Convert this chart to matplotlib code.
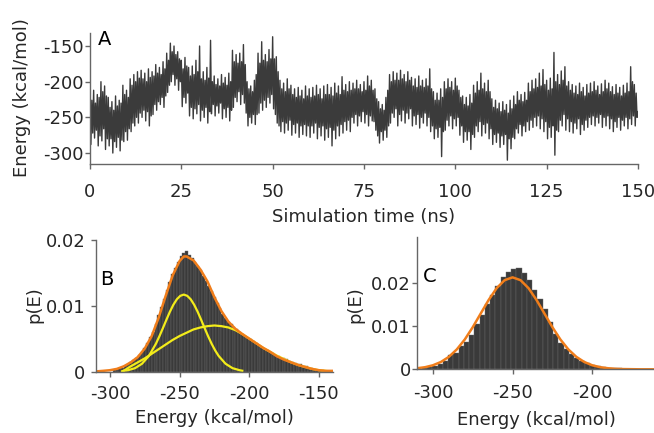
import matplotlib
matplotlib.use("Agg")
import matplotlib.pyplot as plt
import numpy as np

plt.rcParams['font.family'] = ['DejaVu Sans']
plt.rcParams['axes.unicode_minus'] = False

# --- panel A: energy trace, four samples per ns (t = 0, 0.25, 0.5, ...)
energy_trace = [
    -240, -288, -226, -272, -212, -279, -230, -268, -218, -290, -222, -276, -200, -283, -214, -266, -206, -295, -220, -280,
    -222, -290, -236, -280, -228, -300, -240, -284, -220, -292, -234, -278, -226, -297, -230, -282, -205, -284, -218, -270,
    -212, -282, -222, -266, -196, -270, -205, -258, -190, -262, -200, -250, -186, -258, -195, -244, -184, -250, -196, -240,
    -188, -255, -200, -242, -182, -262, -194, -248, -186, -246, -192, -232, -176, -240, -188, -228, -180, -232, -190, -222,
    -172, -236, -182, -220, -160, -215, -170, -205, -146, -200, -158, -190, -150, -205, -162, -196, -158, -212, -168, -200,
    -170, -235, -182, -222, -166, -230, -178, -216, -180, -248, -192, -236, -178, -252, -190, -238, -170, -245, -186, -232,
    -150, -255, -196, -240, -186, -250, -198, -236, -180, -258, -195, -242, -142, -245, -200, -232, -192, -248, -204, -234,
    -196, -244, -206, -230, -190, -252, -202, -238, -194, -250, -205, -236, -188, -255, -200, -240, -156, -236, -172, -222,
    -162, -228, -174, -214, -160, -232, -172, -218, -148, -230, -176, -244, -200, -262, -210, -250, -206, -258, -214, -246,
    -198, -260, -190, -246, -160, -244, -174, -230, -144, -240, -170, -226, -162, -236, -172, -222, -155, -230, -168, -218,
    -137, -238, -168, -246, -165, -258, -186, -262, -198, -270, -210, -256, -202, -272, -214, -258, -196, -268, -210, -254,
    -205, -275, -218, -260, -210, -272, -222, -258, -208, -278, -220, -262, -212, -274, -224, -260, -206, -276, -220, -262,
    -210, -278, -222, -262, -208, -272, -220, -258, -205, -280, -218, -264, -210, -276, -224, -262, -206, -282, -218, -266,
    -204, -278, -218, -264, -208, -290, -220, -268, -202, -280, -216, -262, -206, -276, -218, -260, -193, -272, -212, -256,
    -204, -268, -214, -254, -200, -270, -212, -250, -202, -258, -210, -246, -198, -262, -210, -248, -204, -256, -214, -242,
    -200, -258, -212, -246, -192, -262, -206, -248, -198, -255, -212, -256, -210, -268, -224, -276, -228, -286, -238, -270,
    -232, -282, -240, -268, -222, -278, -212, -262, -190, -258, -200, -244, -186, -250, -198, -238, -188, -262, -198, -246,
    -184, -255, -196, -240, -190, -258, -200, -244, -186, -252, -198, -238, -194, -262, -206, -248, -196, -260, -208, -246,
    -192, -265, -206, -250, -198, -258, -208, -244, -196, -262, -206, -250, -182, -270, -210, -262, -214, -280, -226, -266,
    -216, -278, -226, -264, -210, -305, -222, -270, -200, -268, -210, -254, -196, -262, -208, -248, -200, -266, -212, -252,
    -195, -262, -206, -250, -212, -275, -222, -262, -220, -285, -232, -270, -222, -282, -234, -270, -218, -295, -230, -274,
    -205, -278, -216, -262, -200, -270, -212, -256, -188, -276, -210, -260, -202, -272, -214, -258, -198, -280, -214, -266,
    -224, -288, -236, -274, -226, -285, -238, -272, -230, -292, -242, -276, -228, -288, -240, -274, -232, -310, -244, -280,
    -226, -294, -238, -278, -220, -280, -232, -266, -214, -272, -226, -260, -218, -276, -228, -262, -215, -270, -226, -256,
    -202, -268, -214, -254, -198, -264, -210, -250, -196, -262, -208, -248, -188, -266, -206, -252, -183, -270, -204, -256,
    -198, -280, -212, -264, -195, -278, -210, -262, -159, -303, -200, -268, -190, -270, -204, -254, -185, -262, -198, -246,
    -179, -268, -206, -252, -200, -270, -212, -256, -204, -272, -216, -258, -206, -266, -218, -252, -202, -274, -214, -260,
    -208, -268, -220, -254, -204, -264, -216, -250, -202, -260, -214, -248, -200, -262, -212, -250, -206, -258, -218, -246,
    -203, -264, -214, -250, -198, -262, -210, -248, -202, -266, -214, -252, -207, -270, -218, -256, -204, -264, -216, -250,
    -208, -268, -220, -254, -205, -262, -216, -250, -202, -266, -214, -252, -179, -260, -200, -248, -204, -262, -216, -250,
    -242,
]
time_ns = np.arange(len(energy_trace)) * 0.25

# --- panel B: histogram (bin width 2, first edge -298) and fits
hist_b = [
    0.0003, 0.0004, 0.0005, 0.0006, 0.0009, 0.0011, 0.0014, 0.0017, 0.0020, 0.0025,
    0.0030, 0.0036, 0.0043, 0.0052, 0.0060, 0.0072, 0.0086, 0.0098, 0.0110, 0.0124,
    0.0136, 0.0148, 0.0158, 0.0166, 0.0175, 0.0180, 0.0183, 0.0177, 0.0172, 0.0166,
    0.0160, 0.0154, 0.0146, 0.0138, 0.0130, 0.0122, 0.0113, 0.0104, 0.0096, 0.0088,
    0.0082, 0.0076, 0.0072, 0.0067, 0.0064, 0.0060, 0.0057, 0.0054, 0.0051, 0.0049,
    0.0046, 0.0043, 0.0040, 0.0038, 0.0035, 0.0032, 0.0030, 0.0028, 0.0025, 0.0023,
    0.0021, 0.0020, 0.0019, 0.0016, 0.0014, 0.0013, 0.0012, 0.0011, 0.0009, 0.0008,
    0.0006, 0.0005, 0.0004, 0.0003, 0.0002, 0.0002, 0.0001,
]
bins_b_start, bins_b_width = -298, 2

fit_b_e = [-311, -305, -300, -295, -290, -285, -280, -275, -270, -265, -260, -255, -250, -247,
           -245, -240, -235, -230, -225, -220, -215, -210, -205, -200, -195, -190, -185, -180,
           -175, -170, -165, -160, -155, -150, -145, -140]
fit_b_p = [0.0000, 0.0001, 0.0002, 0.0004, 0.0008, 0.0014, 0.0022, 0.0035, 0.0054, 0.0082,
           0.0115, 0.0146, 0.0168, 0.0175, 0.0175, 0.0169, 0.0155, 0.0137, 0.0113, 0.0092,
           0.0076, 0.0065, 0.0057, 0.0050, 0.0043, 0.0036, 0.0030, 0.0023, 0.0018, 0.0014,
           0.0010, 0.0007, 0.0004, 0.0002, 0.0001, 0.0001]

narrow_e = [-291, -287, -282, -277, -272, -267, -264.5, -262, -259.5, -257, -254.5, -252, -249.5,
            -247, -244.5, -242, -239.5, -237, -234.5, -232, -229.5, -227, -224.5, -222, -217,
            -212, -207, -205]
narrow_p = [0.00008, 0.0002, 0.00051, 0.00118, 0.00238, 0.00422, 0.00536, 0.00659, 0.00785,
            0.00907, 0.01014, 0.01098, 0.01151, 0.0117, 0.01151, 0.01098, 0.01014, 0.00907,
            0.00785, 0.00659, 0.00536, 0.00422, 0.00322, 0.00238, 0.00118, 0.00051, 0.0002,
            0.00012]

broad_e = [-291, -288, -285, -280, -275, -270, -265, -260, -255, -250, -245, -240, -235, -230,
           -225, -220, -215, -210, -205, -200, -195, -190, -185, -180, -175, -170, -165, -160,
           -155, -150, -145, -141]
broad_p = [0.0000, 0.0004, 0.0008, 0.0014, 0.0020, 0.0027, 0.0034, 0.0041, 0.0048, 0.0054,
           0.0059, 0.0064, 0.0067, 0.0069, 0.0070, 0.0069, 0.0067, 0.0063, 0.0057, 0.0050,
           0.0043, 0.0036, 0.0030, 0.0024, 0.0019, 0.0014, 0.0010, 0.0007, 0.0004, 0.0002,
           0.0001, 0.0000]

# --- panel C: histogram (bin width 3.3, first edge -307) and fit
hist_c = [
    0.0003, 0.0005, 0.0008, 0.0012, 0.0020, 0.0033, 0.0037, 0.0054, 0.0062, 0.0080,
    0.0105, 0.0125, 0.0150, 0.0172, 0.0193, 0.0212, 0.0225, 0.0232, 0.0233, 0.0222,
    0.0206, 0.0183, 0.0162, 0.0138, 0.0108, 0.0081, 0.0060, 0.0047, 0.0036, 0.0027,
    0.0020, 0.0014, 0.0011, 0.0008, 0.0006, 0.0004, 0.0003, 0.0002, 0.0001, 0.0001,
]
bins_c_start, bins_c_width = -307, 3.3

fit_c_e = [-310, -305, -300, -295, -290, -285, -280, -275, -270, -265, -260, -255, -250,
           -245, -240, -235, -230, -225, -220, -215, -210, -205, -200, -195, -190, -185,
           -180, -170, -160]
fit_c_p = [0.00024, 0.00048, 0.00093, 0.00169, 0.00287, 0.00459, 0.00688, 0.00971, 0.01286,
           0.0160, 0.01871, 0.02055, 0.0212, 0.02055, 0.01871, 0.0160, 0.01286, 0.00971,
           0.00688, 0.00459, 0.00287, 0.00169, 0.00093, 0.00048, 0.00024, 0.0001, 0.00005,
           0.0, 0.0]

ORANGE = '#f07d1a'
YELLOW = '#f3ec1a'
BARS = '#3a3a3a'
SPINE = '#666666'
FS = 13


def style_axes(ax, xpad, ypad):
    for s in ('top', 'right'):
        ax.spines[s].set_visible(False)
    for s in ('left', 'bottom'):
        ax.spines[s].set_color(SPINE)
        ax.spines[s].set_linewidth(1.0)
    ax.tick_params(axis='both', direction='out', length=3.5, width=1.0,
                   color=SPINE, labelsize=FS, labelcolor='#262626')
    ax.tick_params(axis='x', pad=xpad)
    ax.tick_params(axis='y', pad=ypad)


fig = plt.figure(figsize=(6.54, 4.33), dpi=100)

# panel A
axA = fig.add_axes([0.1376, 0.6212, 0.8379, 0.3025])
axA.plot(time_ns, energy_trace, color='#3b3b3b', lw=1.0)
axA.set_xlim(0, 150)
axA.set_ylim(-315.4, -131.8)
axA.set_xticks([0, 25, 50, 75, 100, 125, 150])
axA.set_yticks([-300, -250, -200, -150])
style_axes(axA, 10, 1)
axA.set_xlabel('Simulation time (ns)', fontsize=FS, color='#262626', va='center')
axA.xaxis.set_label_coords(0.5, -0.405)
axA.set_ylabel('Energy (kcal/mol)', fontsize=FS, color='#262626', va='center')
axA.yaxis.set_label_coords(-0.124, 0.511)
axA.text(0.026, 0.954, 'A', transform=axA.transAxes, fontsize=14, ha='center', va='center')

# panel B
axB = fig.add_axes([0.1468, 0.1420, 0.3621, 0.3037])
centers_b = bins_b_start + bins_b_width * (np.arange(len(hist_b)) + 0.5)
axB.bar(centers_b, hist_b, width=bins_b_width, color=BARS, edgecolor='#6a6a6a', linewidth=0.3)
axB.plot(narrow_e, narrow_p, color=YELLOW, lw=1.6)
axB.plot(broad_e, broad_p, color=YELLOW, lw=1.6)
axB.plot(fit_b_e, fit_b_p, color=ORANGE, lw=1.8)
axB.set_xlim(-310, -140)
axB.set_ylim(0, 0.02)
axB.set_xticks([-300, -250, -200, -150])
axB.set_yticks([0, 0.01, 0.02])
axB.set_yticklabels(['0', '0.01', '0.02'])
style_axes(axB, 6, 4)
axB.set_xlabel('Energy (kcal/mol)', fontsize=FS, color='#262626', va='center')
axB.xaxis.set_label_coords(0.5, -0.354)
axB.set_ylabel('p(E)', fontsize=FS, color='#262626', va='center')
axB.yaxis.set_label_coords(-0.262, 0.506)
axB.text(0.045, 0.703, 'B', transform=axB.transAxes, fontsize=14, ha='center', va='center')

# panel C
axC = fig.add_axes([0.6376, 0.1471, 0.3654, 0.3055])
centers_c = bins_c_start + bins_c_width * (np.arange(len(hist_c)) + 0.5)
axC.bar(centers_c, hist_c, width=bins_c_width, color=BARS, edgecolor='#6a6a6a', linewidth=0.3)
axC.plot(fit_c_e, fit_c_p, color=ORANGE, lw=1.8)
axC.set_xlim(-310, -160)
axC.set_ylim(0, 0.0305)
axC.set_xticks([-300, -250, -200])
axC.set_yticks([0, 0.01, 0.02])
axC.set_yticklabels(['0', '0.01', '0.02'])
style_axes(axC, 7, 1)
axC.set_xlabel('Energy (kcal/mol)', fontsize=FS, color='#262626', va='center')
axC.xaxis.set_label_coords(0.498, -0.383)
axC.set_ylabel('p(E)', fontsize=FS, color='#262626', va='center')
axC.yaxis.set_label_coords(-0.259, 0.486)
axC.text(0.054, 0.698, 'C', transform=axC.transAxes, fontsize=14, ha='center', va='center')

fig.savefig('out.png', dpi=100)
